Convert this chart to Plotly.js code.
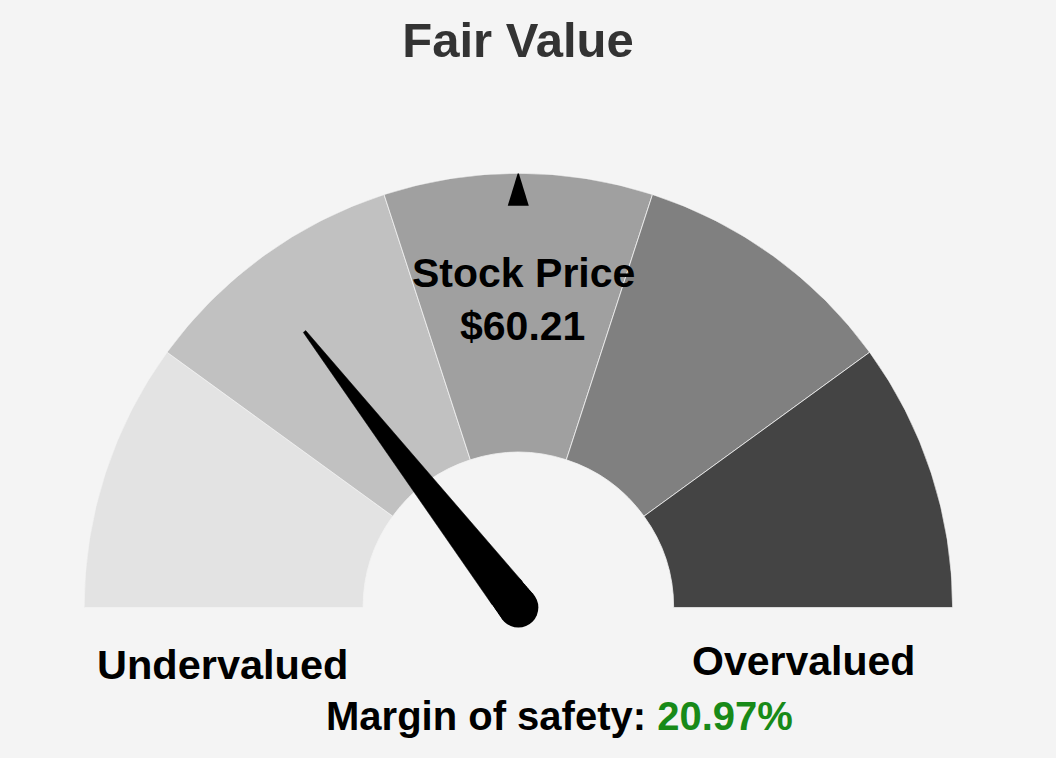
<!DOCTYPE html>
<html>
<head>
<meta charset="utf-8">
<script src="https://cdn.plot.ly/plotly-3.0.1.min.js"></script>
<style>
  html, body { margin: 0; padding: 0; background: #f4f4f4; overflow: hidden; }
  #chart { width: 1056px; height: 758px; }
</style>
</head>
<body>
<div id="chart"></div>
<script>
// ---- data ----
const stockPrice = 60.21;
const marginOfSafety = 20.97;          // percent
const fairValue = 76.19;
const gaugeMin = 38.10;                // fair value - 50%
const gaugeMax = 114.29;               // fair value + 50%
const segmentBounds = [38.10, 53.34, 68.57, 83.81, 99.05, 114.29];
const segmentColors = ['#e3e3e3', '#c1c1c1', '#a0a0a0', '#808080', '#444444'];
const titleText = 'Fair Value';
const priceLabel = 'Stock Price';
const leftLabel = 'Undervalued';
const rightLabel = 'Overvalued';
const mosLabel = 'Margin of safety:';

// ---- style constants ----
const FONT = 'Liberation Sans, Arial, Helvetica, sans-serif';
const HOLE = 0.3576;          // inner radius / outer radius
const GAUGE_R_PX = 434.3;     // outer radius in pixels (from the polar domain)
const NEEDLE_LEN = 0.804;     // fraction of gauge radius
const NEEDLE_BASE = 20 / GAUGE_R_PX;   // half-width at the hub
const NEEDLE_TIP = 1.5 / GAUGE_R_PX;   // half-width at the tip

const toAngle = v => 180 - (v - gaugeMin) / (gaugeMax - gaugeMin) * 180;
const deg = Math.PI / 180;
// point given along-needle (a) and perpendicular (b) components, in units of gauge radius
function needlePoint(angle, a, b) {
  const ux = Math.cos(angle * deg), uy = Math.sin(angle * deg);
  const x = a * ux - b * uy, y = a * uy + b * ux;
  return { r: Math.hypot(x, y), theta: Math.atan2(y, x) / deg };
}
const halfWidth = a => NEEDLE_BASE - (NEEDLE_BASE - NEEDLE_TIP) * a / NEEDLE_LEN;

const traces = [];

// gauge segments
segmentColors.forEach((c, i) => {
  const a0 = toAngle(segmentBounds[i]);
  const a1 = toAngle(segmentBounds[i + 1]);
  traces.push({
    type: 'barpolar',
    r: [1 - HOLE],
    base: [HOLE],
    theta: [(a0 + a1) / 2],
    width: [Math.abs(a0 - a1)],
    marker: { color: c, line: { color: '#f2f2f2', width: 0.8 } },
    hoverinfo: 'skip',
    showlegend: false
  });
});

// fair value marker (triangle at the top)
const fvA = toAngle(fairValue);
traces.push({
  type: 'scatterpolar',
  mode: 'lines',
  r: [1.004, 0.9255, 0.9255, 1.004],
  theta: [fvA, fvA - 1.5, fvA + 1.5, fvA],
  fill: 'toself',
  fillcolor: '#000000',
  line: { color: '#000000', width: 0 },
  hoverinfo: 'skip',
  showlegend: false
});

// needle body
const nA = toAngle(stockPrice);
const aBase = 0.042;
const needlePts = [
  needlePoint(nA, aBase, halfWidth(aBase)),
  needlePoint(nA, NEEDLE_LEN, NEEDLE_TIP),
  needlePoint(nA, NEEDLE_LEN, -NEEDLE_TIP),
  needlePoint(nA, aBase, -halfWidth(aBase)),
  needlePoint(nA, aBase, halfWidth(aBase))
];
traces.push({
  type: 'scatterpolar',
  mode: 'lines',
  r: needlePts.map(p => p.r),
  theta: needlePts.map(p => p.theta),
  fill: 'toself',
  fillcolor: '#000000',
  line: { color: '#000000', width: 0.5 },
  hoverinfo: 'skip',
  showlegend: false
});
// rounded hub (stack of discs following the needle taper)
const hubSteps = [0, 0.007, 0.014, 0.021, 0.028, 0.035, 0.042];
traces.push({
  type: 'scatterpolar',
  mode: 'markers',
  r: hubSteps,
  theta: hubSteps.map(() => nA),
  cliponaxis: false,
  marker: {
    color: '#000000',
    opacity: 1,
    size: hubSteps.map(a => 2 * halfWidth(a) * GAUGE_R_PX),
    line: { width: 0 }
  },
  hoverinfo: 'skip',
  showlegend: false
});

const W = 1056, H = 758;
const px = x => x / W;
const py = y => 1 - y / H;

const layout = {
  width: W,
  height: H,
  margin: { l: 0, r: 0, t: 0, b: 0 },
  paper_bgcolor: '#f4f4f4',
  plot_bgcolor: '#f4f4f4',
  showlegend: false,
  title: {
    text: '<b>' + titleText + '</b>',
    font: { family: FONT, size: 49, color: '#333333' },
    x: px(518), xanchor: 'center', xref: 'paper',
    y: py(39.5), yanchor: 'middle', yref: 'paper'
  },
  polar: {
    domain: { x: [px(84), px(952.7)], y: [py(607.5), py(173.2)] },
    sector: [0, 180],
    hole: 0,
    bgcolor: 'rgba(0,0,0,0)',
    barmode: 'overlay',
    radialaxis: { visible: false, range: [0, 1], showgrid: false },
    angularaxis: { visible: false, showgrid: false, direction: 'counterclockwise', rotation: 0 }
  },
  annotations: [
    { text: '<b>' + priceLabel + '</b>', x: px(523), y: py(273), xref: 'paper', yref: 'paper',
      xanchor: 'center', yanchor: 'middle', showarrow: false,
      font: { family: FONT, size: 41, color: '#000000' } },
    { text: '<b>$' + stockPrice.toFixed(2) + '</b>', x: px(522), y: py(326), xref: 'paper', yref: 'paper',
      xanchor: 'center', yanchor: 'middle', showarrow: false,
      font: { family: FONT, size: 41, color: '#000000' } },
    { text: '<b>' + leftLabel + '</b>', x: px(222.5), y: py(664), xref: 'paper', yref: 'paper',
      xanchor: 'center', yanchor: 'middle', showarrow: false,
      font: { family: FONT, size: 41.5, color: '#000000' } },
    { text: '<b>' + rightLabel + '</b>', x: px(803.5), y: py(661), xref: 'paper', yref: 'paper',
      xanchor: 'center', yanchor: 'middle', showarrow: false,
      font: { family: FONT, size: 41, color: '#000000' } },
    { text: '<b>' + mosLabel + ' <span style="color:#188a18">' + marginOfSafety.toFixed(2) + '%</span></b>',
      x: px(559.5), y: py(716), xref: 'paper', yref: 'paper',
      xanchor: 'center', yanchor: 'middle', showarrow: false,
      font: { family: FONT, size: 40, color: '#000000' } }
  ]
};

Plotly.newPlot('chart', traces, layout, { staticPlot: true, displayModeBar: false });
</script>
</body>
</html>
